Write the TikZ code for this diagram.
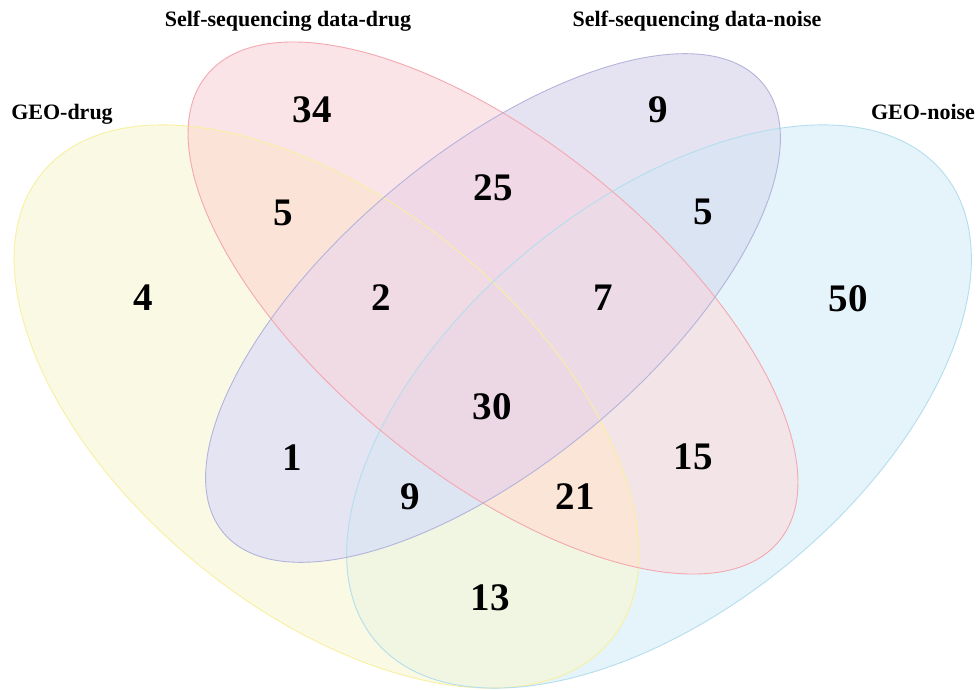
\documentclass[tikz,border=0pt]{standalone}
\usepackage{fontspec}
\setmainfont{Liberation Serif}
\definecolor{cY}{RGB}{250,250,228}
\definecolor{cP}{RGB}{250,228,232}
\definecolor{cV}{RGB}{229,227,242}
\definecolor{cB}{RGB}{229,244,250}
\definecolor{cYP}{RGB}{251,228,215}
\definecolor{cYV}{RGB}{228,228,242}
\definecolor{cYB}{RGB}{240,246,225}
\definecolor{cPV}{RGB}{240,216,230}
\definecolor{cPB}{RGB}{243,229,231}
\definecolor{cVB}{RGB}{218,228,242}
\definecolor{cYPV}{RGB}{240,218,227}
\definecolor{cYPB}{RGB}{250,229,215}
\definecolor{cYVB}{RGB}{221,228,242}
\definecolor{cPVB}{RGB}{236,218,230}
\definecolor{cYPVB}{RGB}{236,216,228}
\definecolor{ydraw}{RGB}{248,240,160}
\definecolor{pdraw}{RGB}{244,168,176}
\definecolor{vdraw}{RGB}{180,180,220}
\definecolor{bdraw}{RGB}{180,222,238}
\newcommand\shY[1]{\path[#1,rotate around={-39.4:(326.5,282.5)}] (326.5,282.5) ellipse [x radius=368, y radius=203.5];}
\newcommand\shB[1]{\path[#1,rotate around={39.4:(659,282.5)}] (659,282.5) ellipse [x radius=368, y radius=203.5];}
\newcommand\shP[1]{\path[#1,rotate around={-39.1:(493,381)}] (493,381) ellipse [x radius=369, y radius=166];}
\newcommand\shV[1]{\path[#1,rotate around={39.8:(493,381)}] (493,381) ellipse [x radius=351, y radius=155];}
\begin{document}
\begin{tikzpicture}[x=1pt,y=1pt,
  num/.style={font=\bfseries\fontsize{39}{39}\selectfont, inner sep=0pt},
  lab/.style={font=\bfseries\fontsize{22}{22}\selectfont, inner sep=0pt, anchor=base},
  outline/.style={draw=#1, line width=0.9pt}]
\useasboundingbox (0,0) rectangle (980,689);
\fill[white] (0,0) rectangle (980,689);
% single sets
\shY{fill=cY}
\shP{fill=cP}
\shV{fill=cV}
\shB{fill=cB}
% pairs
\begin{scope}\shY{clip}\shP{fill=cYP}\end{scope}
\begin{scope}\shY{clip}\shV{fill=cYV}\end{scope}
\begin{scope}\shY{clip}\shB{fill=cYB}\end{scope}
\begin{scope}\shP{clip}\shV{fill=cPV}\end{scope}
\begin{scope}\shP{clip}\shB{fill=cPB}\end{scope}
\begin{scope}\shV{clip}\shB{fill=cVB}\end{scope}
% triples
\begin{scope}\shY{clip}\shP{clip}\shV{fill=cYPV}\end{scope}
\begin{scope}\shY{clip}\shP{clip}\shB{fill=cYPB}\end{scope}
\begin{scope}\shY{clip}\shV{clip}\shB{fill=cYVB}\end{scope}
\begin{scope}\shP{clip}\shV{clip}\shB{fill=cPVB}\end{scope}
% all four
\begin{scope}\shY{clip}\shP{clip}\shV{clip}\shB{fill=cYPVB}\end{scope}
% outlines
\shY{outline=ydraw}
\shB{outline=bdraw}
\shP{outline=pdraw}
\shV{outline=vdraw}
% labels
\node[lab] (l1) at (288,662) {Self-sequencing data-drug};
\node[lab] (l2) at (697,662) {Self-sequencing data-noise};
\node[lab] (l3) at (62,569) {GEO-drug};
\node[lab] (l4) at (923,569) {GEO-noise};
% numbers
\node[num] (n34) at (312,579) {34};
\node[num] (n9a) at (658,579) {9};
\node[num] (n4) at (143,391) {4};
\node[num] (n5a) at (283,476) {5};
\node[num] (n25) at (493,501) {25};
\node[num] (n5b) at (703,477) {5};
\node[num] (n2) at (381,391) {2};
\node[num] (n7) at (603,391) {7};
\node[num] (n50) at (848,390) {50};
\node[num] (n30) at (492,282) {30};
\node[num] (n1) at (292,231) {1};
\node[num] (n15) at (693,232) {15};
\node[num] (n9b) at (410,192) {9};
\node[num] (n21) at (575,192) {21};
\node[num] (n13) at (490,91) {13};
\end{tikzpicture}
\end{document}
